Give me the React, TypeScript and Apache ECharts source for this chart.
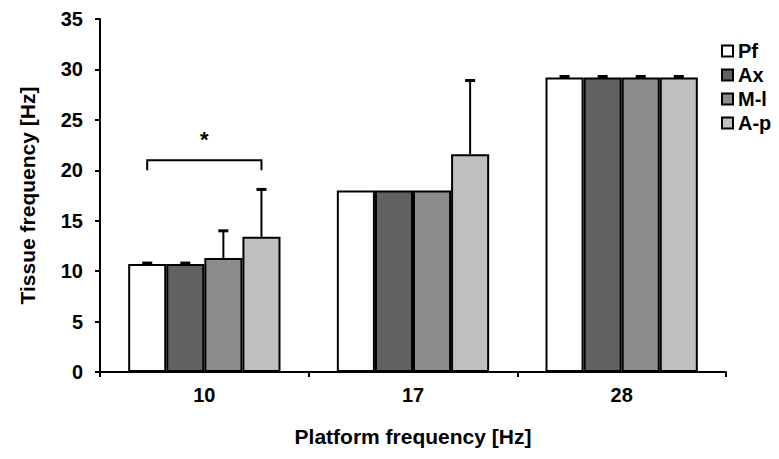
import React, { useEffect, useRef } from "react";
import * as echarts from "echarts";

const categories = ["10", "17", "28"];
const seriesNames = ["Pf", "Ax", "M-l", "A-p"];
const pfValues = [10.7, 18.0, 29.2];
const axValues = [10.7, 18.0, 29.2];
const mlValues = [11.3, 18.0, 29.2];
const apValues = [13.4, 21.6, 29.2];
const pfErrors = [0.1, 0, 0.1];
const axErrors = [0.1, 0, 0.1];
const mlErrors = [2.7, 0, 0.1];
const apErrors = [4.7, 7.3, 0.1];
const barColors = ["#ffffff", "#616161", "#8c8c8c", "#c0c0c0"];
// significance bracket: category index, from series, to series, top value, leg bottom value, star value
const bracketCategory = 0;
const bracketFrom = 0;
const bracketTo = 3;
const bracketTop = 21;
const bracketLeg = 20;
const starValue = 23.1;
const starText = "*";

const CATEGORY_GAP = 0.27;

export default function App() {
  const ref = useRef<HTMLDivElement>(null);
  useEffect(() => {
    if (!ref.current) return;
    const chart = echarts.init(ref.current, null, { renderer: "svg" });
    const values = [pfValues, axValues, mlValues, apValues];
    const errors = [pfErrors, axErrors, mlErrors, apErrors];
    const errData: number[][] = [];
    values.forEach((vals, s) => {
      vals.forEach((v, c) => {
        errData.push([c, s, v, errors[s][c]]);
      });
    });
    const n = seriesNames.length;
    const barX = (api: any, cat: number, s: number) => {
      const center = api.coord([cat, 0])[0];
      const band = api.size([1, 0])[0];
      const bw = (band * (1 - CATEGORY_GAP)) / n;
      return center + (s - (n - 1) / 2) * bw;
    };
    const font = "Liberation Sans, Arial, sans-serif";
    chart.setOption({
      animation: false,
      grid: { left: 100, right: 53, top: 19, bottom: 87 },
      legend: {
        orient: "vertical",
        left: 716,
        top: 36,
        itemWidth: 11,
        itemHeight: 11,
        itemGap: 4,
        icon: "rect",
        data: seriesNames,
        textStyle: { fontFamily: font, fontWeight: "bold", fontSize: 20, color: "#000", lineHeight: 17 },
      },
      xAxis: {
        type: "category",
        data: categories,
        name: "Platform frequency [Hz]",
        nameLocation: "middle",
        nameGap: 54,
        nameTextStyle: { fontFamily: font, fontWeight: "bold", fontSize: 21, color: "#000" },
        axisLine: { lineStyle: { color: "#000", width: 2 } },
        axisTick: { show: true, length: 5, lineStyle: { color: "#000", width: 2 } },
        axisLabel: { fontFamily: font, fontWeight: "bold", fontSize: 20, color: "#000", margin: 13 },
      },
      yAxis: {
        type: "value",
        min: 0,
        max: 35,
        interval: 5,
        name: "Tissue frequency [Hz]",
        nameLocation: "middle",
        nameGap: 62,
        nameTextStyle: { fontFamily: font, fontWeight: "bold", fontSize: 21, color: "#000" },
        axisLine: { show: true, lineStyle: { color: "#000", width: 2 } },
        axisTick: { show: true, length: 5, lineStyle: { color: "#000", width: 2 } },
        axisLabel: { fontFamily: font, fontWeight: "bold", fontSize: 20, color: "#000", margin: 17 },
        splitLine: { show: false },
      },
      series: [
        ...seriesNames.map((name, s) => ({
          name,
          type: "bar",
          data: values[s],
          barGap: "0%",
          barCategoryGap: CATEGORY_GAP * 100 + "%",
          itemStyle: { color: barColors[s], borderColor: "#000", borderWidth: 2 },
        })),
        {
          type: "custom",
          name: "errors",
          z: 5,
          data: errData,
          renderItem: (params: any, api: any) => {
            const cat = api.value(0);
            const s = api.value(1);
            const v = api.value(2);
            const e = api.value(3);
            if (!e) return null;
            const x = barX(api, cat, s);
            const y0 = api.coord([cat, v])[1];
            const y1 = api.coord([cat, v + e])[1];
            const style = { stroke: "#000", lineWidth: 2 };
            return {
              type: "group",
              children: [
                { type: "line", shape: { x1: x, y1: y0, x2: x, y2: y1 }, style },
                { type: "line", shape: { x1: x - 5, y1: y1, x2: x + 5, y2: y1 }, style: { stroke: "#000", lineWidth: 3 } },
              ],
            };
          },
        },
        {
          type: "custom",
          name: "bracket",
          z: 5,
          data: [[bracketCategory, bracketFrom, bracketTo, bracketTop, bracketLeg, starValue]],
          renderItem: (params: any, api: any) => {
            const cat = api.value(0);
            const x1 = barX(api, cat, api.value(1));
            const x2 = barX(api, cat, api.value(2));
            const yt = api.coord([cat, api.value(3)])[1];
            const yl = api.coord([cat, api.value(4)])[1];
            const ys = api.coord([cat, api.value(5)])[1];
            const style = { stroke: "#000", lineWidth: 2, fill: null };
            return {
              type: "group",
              children: [
                { type: "polyline", shape: { points: [[x1, yl], [x1, yt], [x2, yt], [x2, yl]] }, style },
                {
                  type: "text",
                  style: {
                    x: (x1 + x2) / 2,
                    y: ys,
                    text: starText,
                    fill: "#000",
                    font: "bold 22px Liberation Sans, Arial, sans-serif",
                    textAlign: "center",
                    textVerticalAlign: "middle",
                  },
                },
              ],
            };
          },
        },
      ],
    });
    return () => chart.dispose();
  }, []);
  return <div ref={ref} style={{ width: 779, height: 459, position: "absolute", left: 0, top: 0, background: "#fff" }} />;
}
